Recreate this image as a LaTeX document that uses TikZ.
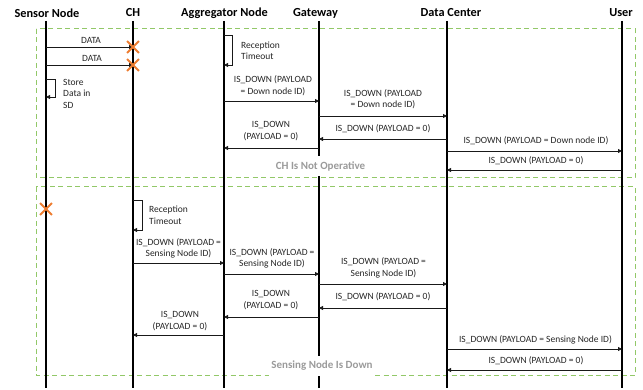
\documentclass[tikz,border=0pt]{standalone}
\usepackage{fontspec}
\setmainfont{Carlito}
\usetikzlibrary{arrows.meta,shapes.misc}
\definecolor{boxgreen}{RGB}{146,200,104}
\definecolor{xorange}{RGB}{237,125,49}
\definecolor{notegray}{RGB}{155,155,155}
\tikzset{
  head/.style={font=\fontsize{12.3}{14}\selectfont\bfseries, inner sep=0pt},
  life/.style={line width=1.5pt, black},
  msg/.style={line width=0.8pt, black!90, -{Triangle[length=4pt,width=4pt]}},
  lbl/.style={font=\fontsize{9.5}{11.5}\selectfont, align=center, inner sep=0pt, text=black!85},
  note/.style={font=\fontsize{9.5}{11.5}\selectfont, align=left, inner sep=0pt, anchor=west, text=black!85},
  phase/.style={draw=boxgreen, dash pattern=on 5pt off 3.5pt, line width=1pt},
  status/.style={font=\fontsize{11}{13}\selectfont\bfseries, text=notegray, fill=white, minimum height=20pt, inner xsep=2pt, inner ysep=0pt},
  xmark/.style={cross out, draw=xorange, line width=1.8pt, minimum size=10pt, inner sep=0pt},
}
\begin{document}
\begin{tikzpicture}[x=1pt,y=-1pt]
\useasboundingbox (0,0) rectangle (643,390);

% phase frames
\draw[phase] (36,29) rectangle (635,178);
\draw[phase] (36,187) rectangle (635,375);

% participants
\node[head] (snh) at (47,13) {Sensor Node};
\node[head] (chh) at (133,13) {CH};
\node[head] (agh) at (224.5,13) {Aggregator Node};
\node[head] (gwh) at (315.5,13) {Gateway};
\node[head] (dch) at (451,13) {Data Center};
\node[head] (ush) at (621,13) {User};

% lifelines
\coordinate (sn) at (46,21);
\coordinate (ch) at (133,21);
\coordinate (ag) at (224,21);
\coordinate (gw) at (319,21);
\coordinate (dc) at (447,21);
\coordinate (us) at (622,21);
\foreach \p in {sn,ch,ag,gw,dc,us}
  \draw[life] (\p) -- (\p |- 0,388);

% ---- CH is not operative ----
\draw[msg] (sn |- 0,47) -- (ch |- 0,47);
\node[lbl] (d1) at (91,40) {DATA};
\node[xmark] (lost1) at (133,47) {};
\draw[msg] (sn |- 0,65) -- (ch |- 0,65);
\node[lbl] (d2) at (92,58) {DATA};
\node[xmark] (lost2) at (133,65) {};

\draw[msg] (sn |- 0,79) -- ++(9,0) |- (sn |- 0,97);
\node[note] (store) at (63,93.5) {Store\\Data in\\SD};

\draw[msg] (ag |- 0,35) -- ++(8,0) |- (ag |- 0,65);
\node[note] (rt1) at (241,51) {Reception\\Timeout};

\draw[msg] (ag |- 0,101) -- (gw |- 0,101);
\node[lbl] (u1) at (273,85.5) {IS\_DOWN (PAYLOAD\\= Down node ID)};
\draw[msg] (gw |- 0,116) -- (dc |- 0,116);
\node[lbl] (u2) at (383,99) {IS\_DOWN (PAYLOAD\\= Down node ID)};
\draw[msg] (dc |- 0,139) -- (gw |- 0,139);
\node[lbl] (u3) at (383,129) {IS\_DOWN (PAYLOAD = 0)};
\draw[msg] (gw |- 0,148) -- (ag |- 0,148);
\node[lbl] (u4) at (271,131) {IS\_DOWN\\(PAYLOAD = 0)};
\draw[msg] (dc |- 0,151) -- (us |- 0,151);
\node[lbl] (u5) at (536,141) {IS\_DOWN (PAYLOAD = Down node ID)};
\draw[msg] (us |- 0,170) -- (dc |- 0,170);
\node[lbl] (u6) at (536,161) {IS\_DOWN (PAYLOAD = 0)};

% ---- sensing node is down ----
\node[xmark] (lost3) at (46,209) {};
\draw[msg] (ch |- 0,200) -- ++(9,0) |- (ch |- 0,230);
\node[note] (rt2) at (149,215.5) {Reception\\Timeout};

\draw[msg] (ch |- 0,263) -- (ag |- 0,263);
\node[lbl] (l1) at (178.5,248.5) {IS\_DOWN (PAYLOAD =\\Sensing Node ID)};
\draw[msg] (ag |- 0,274) -- (gw |- 0,274);
\node[lbl] (l2) at (272,258.5) {IS\_DOWN (PAYLOAD =\\Sensing Node ID)};
\draw[msg] (gw |- 0,284) -- (dc |- 0,284);
\node[lbl] (l3) at (383.5,268) {IS\_DOWN (PAYLOAD =\\Sensing Node ID)};
\draw[msg] (dc |- 0,308) -- (gw |- 0,308);
\node[lbl] (l4) at (383,297) {IS\_DOWN (PAYLOAD = 0)};
\draw[msg] (gw |- 0,317) -- (ag |- 0,317);
\node[lbl] (l5) at (271,300) {IS\_DOWN\\(PAYLOAD = 0)};
\draw[msg] (ag |- 0,335) -- (ch |- 0,335);
\node[lbl] (l6) at (180,321) {IS\_DOWN\\(PAYLOAD = 0)};
\draw[msg] (dc |- 0,349) -- (us |- 0,349);
\node[lbl] (l7) at (535.5,340) {IS\_DOWN (PAYLOAD = Sensing Node ID)};
\draw[msg] (us |- 0,370) -- (dc |- 0,370);
\node[lbl] (l8) at (536,361) {IS\_DOWN (PAYLOAD = 0)};

% phase captions
\node[status] (s1) at (320.5,166) {CH Is Not Operative};
\node[status] (s2) at (322,366) {Sensing Node Is Down};
\end{tikzpicture}
\end{document}
